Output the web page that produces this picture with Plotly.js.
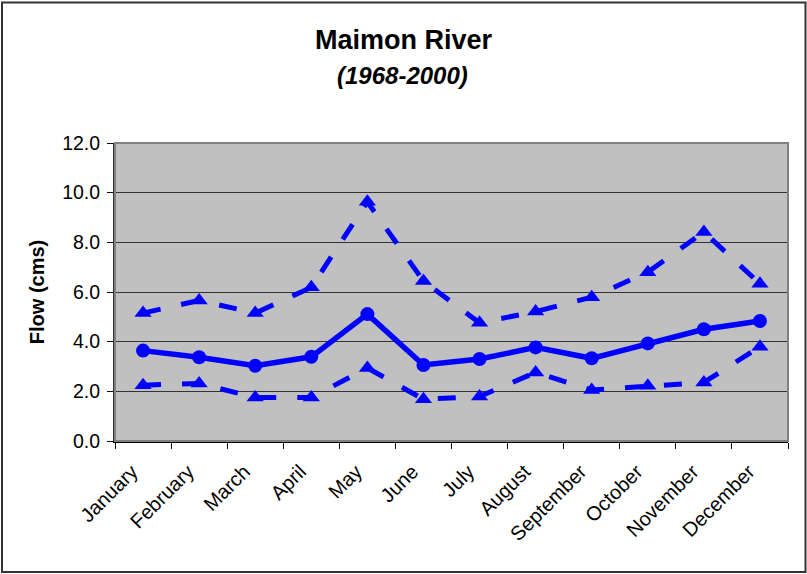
<!DOCTYPE html>
<html>
<head>
<meta charset="utf-8">
<script src="https://cdn.plot.ly/plotly-3.0.1.min.js"></script>
<style>
  html, body { margin: 0; padding: 0; background: #fff; }
  #chart { width: 807px; height: 574px; }
</style>
</head>
<body>
<div id="chart"></div>
<script>
const months = ["January","February","March","April","May","June","July","August","September","October","November","December"];
const meanFlow = [3.64, 3.37, 3.03, 3.39, 5.11, 3.06, 3.30, 3.77, 3.33, 3.93, 4.50, 4.83];
const upperFlow = [5.15, 5.66, 5.15, 6.19, 9.63, 6.44, 4.76, 5.21, 5.79, 6.80, 8.42, 6.33];
const lowerFlow = [2.25, 2.32, 1.75, 1.75, 2.94, 1.68, 1.79, 2.76, 2.05, 2.22, 2.36, 3.80];
const yTicks = [0, 2, 4, 6, 8, 10, 12];

const blue = "#0000FF";
const FONT = "Liberation Sans, Arial, sans-serif";
const traces = [
  {
    x: months, y: upperFlow, type: "scatter", mode: "lines+markers",
    line: { color: blue, width: 5, dash: "18px,21px" },
    marker: { symbol: "triangle-up", size: 15, color: blue }
  },
  {
    x: months, y: lowerFlow, type: "scatter", mode: "lines+markers",
    line: { color: blue, width: 5, dash: "18px,21px" },
    marker: { symbol: "triangle-up", size: 15, color: blue }
  },
  {
    x: months, y: meanFlow, type: "scatter", mode: "lines+markers",
    line: { color: blue, width: 5.5 },
    marker: { symbol: "circle", size: 14, color: blue }
  }
];

const W = 673, H = 298, L = 115, T = 143;
const px = v => (v - L) / W;
const py = v => (T + H - v) / H;

const layout = {
  width: 807, height: 574,
  margin: { l: 115, r: 19, t: 143, b: 133 },
  paper_bgcolor: "#ffffff",
  plot_bgcolor: "#C0C0C0",
  showlegend: false,
  font: { family: FONT, color: "#000" },
  title: {
    text: "<b>Maimon River</b>",
    xref: "container", x: 0.5,
    yref: "container", y: 1 - 40 / 574, yanchor: "middle",
    font: { size: 27, family: FONT, color: "#000" }
  },
  annotations: [{
    text: "<b><i>(1968-2000)</i></b>",
    xref: "paper", yref: "paper",
    x: px(402), y: py(75), xanchor: "center", yanchor: "middle",
    showarrow: false,
    font: { size: 24, family: FONT, color: "#000" }
  }],
  xaxis: {
    type: "category",
    tickangle: -45,
    ticks: "outside", ticklen: 6, tickcolor: "#000",
    tickson: "boundaries",
    ticklabelshift: -11,
    ticklabelstandoff: 9,
    showgrid: false,
    showline: true, linecolor: "#000", linewidth: 2,
    tickfont: { size: 20, family: FONT },
    automargin: false,
    range: [-0.5, 11.5]
  },
  yaxis: {
    range: [0, 12],
    tickvals: yTicks,
    tickformat: ".1f",
    ticks: "outside", ticklen: 6, tickcolor: "#000",
    ticklabelstandoff: 3,
    showgrid: true, gridcolor: "#333333", gridwidth: 1,
    showline: true, linecolor: "#333", linewidth: 2,
    zeroline: false,
    automargin: false,
    tickfont: { size: 19.5, family: FONT },
    title: { text: "<b>Flow (cms)</b>", standoff: 12, font: { size: 20, family: FONT } }
  },
  shapes: [
    { type: "rect", xref: "paper", yref: "paper", x0: 0, x1: 1, y0: 0, y1: 1,
      line: { color: "#808080", width: 2 }, fillcolor: "rgba(0,0,0,0)", layer: "above" },
    { type: "rect", xref: "paper", yref: "paper",
      x0: px(2), x1: px(805.5), y0: py(572), y1: py(2.5),
      line: { color: "#333", width: 2 }, fillcolor: "rgba(0,0,0,0)" }
  ]
};

Plotly.newPlot("chart", traces, layout, { displayModeBar: false, staticPlot: true });
</script>
</body>
</html>
